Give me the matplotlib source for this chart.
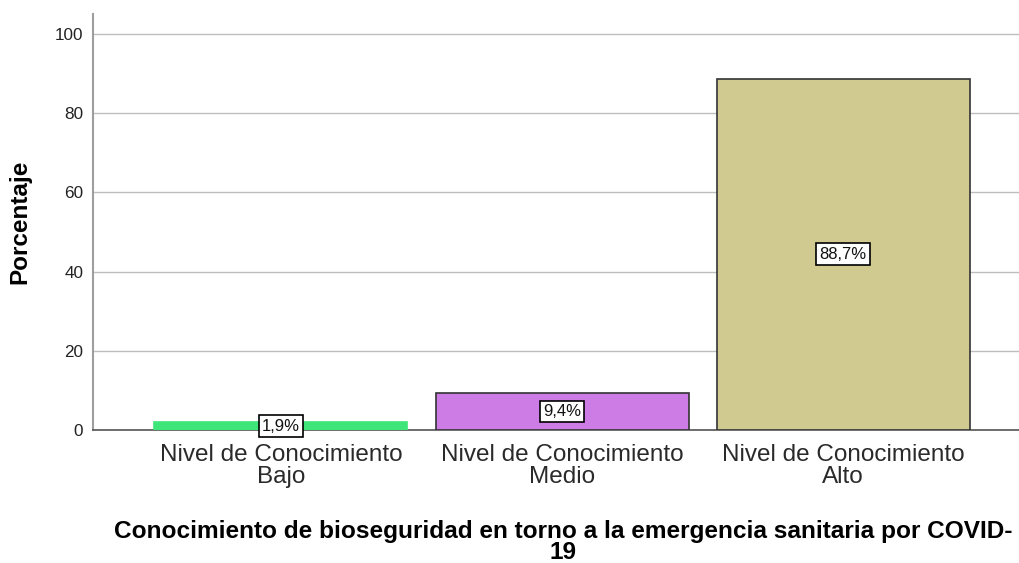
import matplotlib.pyplot as plt

plt.rcParams["font.family"] = ["Liberation Sans", "DejaVu Sans"]

categorias = ["Nivel de Conocimiento\nBajo", "Nivel de Conocimiento\nMedio", "Nivel de Conocimiento\nAlto"]
porcentajes = [1.9, 9.4, 88.7]
etiquetas = ["1,9%", "9,4%", "88,7%"]
colores = ["#3EE67A", "#CC7CE4", "#D0CA90"]
bordes = ["#3EE67A", "#333333", "#333333"]

fig = plt.figure(figsize=(10.19, 5.63), dpi=100)
ax = fig.add_axes([93 / 1019, 1 - 430 / 563, 926 / 1019, 416 / 563])

x = list(range(len(categorias)))
for xi, v, c, b, lab in zip(x, porcentajes, colores, bordes, etiquetas):
    ax.bar(xi, v, width=0.9, color=c, edgecolor=b, linewidth=1.2, zorder=3)
    ax.text(xi, v / 2, lab, ha="center", va="center", fontsize=12, color="#111111", zorder=4,
            bbox=dict(boxstyle="square,pad=0.2", facecolor="white", edgecolor="black", linewidth=1.2))

ax.set_xlim(-0.668, 2.625)
ax.set_ylim(0, 105)
ax.set_yticks([0, 20, 40, 60, 80, 100])
ax.set_xticks(x)
ax.set_xticklabels(categorias, fontsize=17.5, color="#2a2a2a", linespacing=1.0)
ax.tick_params(axis="y", length=0, pad=7, labelsize=12.3, labelcolor="#222222")
ax.tick_params(axis="x", length=0, pad=10)

ax.grid(axis="y", color="#BDBDBD", linewidth=1, zorder=0)
for s in ["top", "right"]:
    ax.spines[s].set_visible(False)
ax.spines["left"].set_color("#9E9E9E")
ax.spines["left"].set_linewidth(1.5)
ax.spines["bottom"].set_color("#555555")
ax.spines["bottom"].set_linewidth(1.2)

ax.set_ylabel("Porcentaje", fontsize=17.5, fontweight="bold", labelpad=17)
fig.text(563 / 1019, 1 - 542 / 563,
         "Conocimiento de bioseguridad en torno a la emergencia sanitaria por COVID-\n19",
         ha="center", va="center", fontsize=17.6, fontweight="bold", linespacing=0.88)

fig.savefig("out.png", dpi=100)
